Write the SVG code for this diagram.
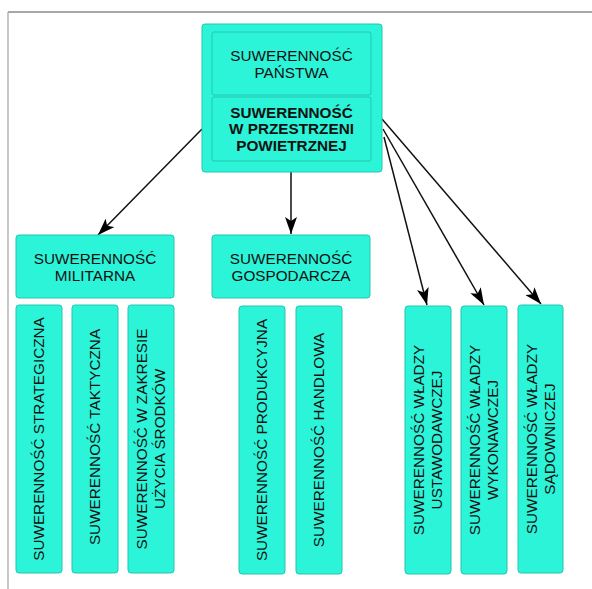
<svg xmlns="http://www.w3.org/2000/svg" width="592" height="589" viewBox="0 0 592 589">
<style>
.box{fill:#2cf4d8;stroke:#22c7ae;stroke-width:1}
.t{font-family:"Liberation Sans",Arial,sans-serif;font-size:15.3px;fill:#111;text-anchor:middle}
.b{font-weight:bold}
.c{stroke:#111;stroke-width:1.5;fill:none;marker-end:url(#ah)}
</style>
<defs>
<marker id="ah" markerUnits="userSpaceOnUse" markerWidth="18" markerHeight="12" refX="17" refY="6" orient="auto" viewBox="0 0 18 12">
<path d="M0,0 L17,6 L0,12 L4,6 z" fill="#000"/>
</marker>
</defs>
<rect width="592" height="589" fill="#fff"/>
<g id="frame" stroke="#8a8a8a" stroke-width="1.3" fill="none">
<line x1="8" y1="12" x2="592" y2="12"/>
<line x1="8" y1="12" x2="8" y2="589" stroke="#aaa"/>
</g>
<g id="connectors">
<line class="c" x1="202" y1="129" x2="98" y2="235"/>
<line class="c" x1="291" y1="172" x2="291" y2="234"/>
<line class="c" x1="384" y1="137" x2="427" y2="305"/>
<line class="c" x1="383" y1="129" x2="484" y2="305"/>
<line class="c" x1="382" y1="119" x2="541" y2="304"/>
</g>
<g id="top">
<rect class="box" x="202" y="24" width="180" height="148" rx="3"/>
<g id="panstwa">
<rect class="box" x="212" y="32" width="159" height="63" rx="2"/>
<text class="t" x="291.5" y="60.5">SUWERENNOŚĆ</text>
<text class="t" x="291.5" y="77.5">PAŃSTWA</text>
</g>
<g id="przestrzen">
<rect class="box" x="212" y="97" width="159" height="64" rx="2"/>
<text class="t b" x="291.5" y="117.5">SUWERENNOŚĆ</text>
<text class="t b" x="291.5" y="134">W PRZESTRZENI</text>
<text class="t b" x="291.5" y="150.5">POWIETRZNEJ</text>
</g>
</g>
<g id="militarna">
<rect class="box" x="16" y="235" width="158" height="63" rx="3"/>
<text class="t" x="95" y="264">SUWERENNOŚĆ</text>
<text class="t" x="95" y="281">MILITARNA</text>
</g>
<g id="gospodarcza">
<rect class="box" x="212" y="235" width="158" height="63" rx="3"/>
<text class="t" x="291" y="264">SUWERENNOŚĆ</text>
<text class="t" x="291" y="281">GOSPODARCZA</text>
</g>
<g id="strategiczna">
<rect class="box" x="16" y="305" width="46" height="268" rx="3"/>
<text class="t" transform="translate(39,439) rotate(-90)" y="5.4">SUWERENNOŚĆ STRATEGICZNA</text>
</g>
<g id="taktyczna">
<rect class="box" x="72" y="305" width="46" height="268" rx="3"/>
<text class="t" transform="translate(95,437) rotate(-90)" y="5.4">SUWERENNOŚĆ TAKTYCZNA</text>
</g>
<g id="srodkow">
<rect class="box" x="128" y="305" width="46" height="268" rx="3"/>
<text class="t" transform="translate(151,439) rotate(-90)"><tspan x="0" y="-3.6">SUWERENNOŚĆ W ZAKRESIE</tspan><tspan x="0" y="14.4">UŻYCIA ŚRODKÓW</tspan></text>
</g>
<g id="produkcyjna">
<rect class="box" x="239" y="306" width="46" height="268" rx="3"/>
<text class="t" transform="translate(262,440) rotate(-90)" y="5.4">SUWERENNOŚĆ PRODUKCYJNA</text>
</g>
<g id="handlowa">
<rect class="box" x="296" y="306" width="46" height="268" rx="3"/>
<text class="t" transform="translate(319,440) rotate(-90)" y="5.4">SUWERENNOŚĆ HANDLOWA</text>
</g>
<g id="ustawodawczej">
<rect class="box" x="405" y="306" width="46" height="268" rx="3"/>
<text class="t" transform="translate(428,440) rotate(-90)"><tspan x="0" y="-3.6">SUWERENNOŚĆ WŁADZY</tspan><tspan x="0" y="14.4">USTAWODAWCZEJ</tspan></text>
</g>
<g id="wykonawczej">
<rect class="box" x="461" y="306" width="46" height="268" rx="3"/>
<text class="t" transform="translate(484,440) rotate(-90)"><tspan x="0" y="-3.6">SUWERENNOŚĆ WŁADZY</tspan><tspan x="0" y="14.4">WYKONAWCZEJ</tspan></text>
</g>
<g id="sadowniczej">
<rect class="box" x="518" y="305" width="45" height="268" rx="3"/>
<text class="t" transform="translate(540.5,439) rotate(-90)"><tspan x="0" y="-3.6">SUWERENNOŚĆ WŁADZY</tspan><tspan x="0" y="14.4">SĄDOWNICZEJ</tspan></text>
</g>
</svg>
